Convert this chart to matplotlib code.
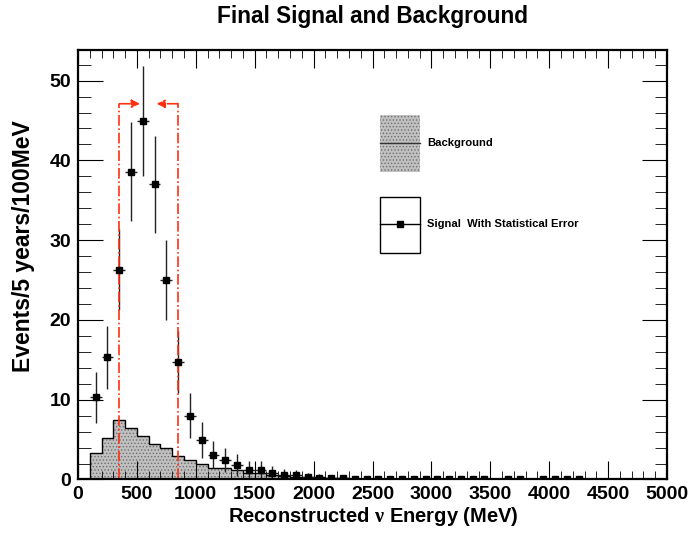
import numpy as np
import matplotlib.pyplot as plt
from matplotlib.patches import Rectangle
from matplotlib.lines import Line2D
from matplotlib.ticker import MultipleLocator

plt.rcParams['font.family'] = ['Liberation Sans', 'DejaVu Sans']
plt.rcParams['font.weight'] = 'bold'
plt.rcParams['mathtext.fontset'] = 'custom'
plt.rcParams['mathtext.rm'] = 'Liberation Serif'
plt.rcParams['hatch.color'] = '#7a7a7a'
plt.rcParams['hatch.linewidth'] = 0.6

# background histogram, 100 MeV bins starting at 100 MeV
bkg_edges = np.arange(100, 2800, 100)
bkg_counts = [3.3, 5.2, 7.4, 6.5, 5.5, 4.5, 3.9, 3.0, 2.4, 2.0, 1.5, 1.45, 1.2,
              0.8, 0.75, 0.6, 0.4, 0.35, 0.3, 0.25, 0.2, 0.15, 0.12, 0.1, 0.08, 0.06]

# signal with statistical error
sig_x = [150, 250, 350, 450, 550, 650, 750, 850, 950, 1050, 1150, 1250, 1350,
         1450, 1550, 1650, 1750, 1850, 1950, 2050, 2150, 2250, 2350, 2450, 2550,
         2650, 2750, 2850, 2950, 3050, 3150, 3250, 3350, 3450, 3650, 3750,
         3950, 4050, 4150, 4250]
sig_y = [10.3, 15.3, 26.3, 38.6, 44.9, 37.0, 25.0, 14.7, 8.0, 4.95, 3.1, 2.4, 1.8,
         1.2, 1.2, 0.8, 0.6, 0.5, 0.3, 0.2, 0.15, 0.15, 0.08, 0.08, 0.06,
         0.06, 0.06, 0.06, 0.06, 0.06, 0.06, 0.06, 0.06, 0.06, 0.06, 0.06,
         0.06, 0.06, 0.06, 0.06]
sig_err = [3.2, 3.9, 5.1, 6.2, 6.9, 6.1, 5.0, 3.9, 2.85, 2.2, 1.7, 1.5, 1.35,
           1.1, 1.1, 0.9, 0.75, 0.7, 0.55, 0.45, 0.4, 0.4, 0.3, 0.3, 0.25,
           0.25, 0.25, 0.25, 0.25, 0.25, 0.25, 0.25, 0.25, 0.25, 0.25, 0.25,
           0.25, 0.25, 0.25, 0.25]

cut_lo, cut_hi, cut_h = 350, 850, 47.1
arrow_lo_end, arrow_hi_end = 526, 668

fig = plt.figure(figsize=(6.92, 5.34), dpi=100)
ax = fig.add_axes([0.1127, 0.1021, 0.8512, 0.8052])

ax.stairs(bkg_counts, bkg_edges, fill=True, facecolor='#c0c0c0', edgecolor='#6e6e6e',
          hatch='.....', lw=0)
ax.stairs(bkg_counts, bkg_edges, color='black', lw=1.0)

ax.errorbar(sig_x, sig_y, yerr=sig_err, xerr=50, fmt='s', color='black', ms=5,
            ecolor='#222222', elinewidth=1.0, capsize=0)

red = '#ff3010'
for xc, xe in [(cut_lo, arrow_lo_end), (cut_hi, arrow_hi_end)]:
    ax.plot([xc, xc], [0, cut_h], color=red, ls='-.', lw=1.2)
    ax.annotate('', xy=(xe, cut_h), xytext=(xc, cut_h),
                arrowprops=dict(arrowstyle='-|>', color=red, lw=1.2,
                                linestyle='-.', mutation_scale=12,
                                shrinkA=0, shrinkB=0))

ax.set_xlim(0, 5000)
ax.set_ylim(0, 53.9)
ax.xaxis.set_major_locator(MultipleLocator(500))
ax.xaxis.set_minor_locator(MultipleLocator(100))
ax.yaxis.set_major_locator(MultipleLocator(10))
ax.yaxis.set_minor_locator(MultipleLocator(2))
ax.tick_params(which='both', direction='in', top=True, right=True, labelsize=14)
ax.tick_params(axis='x', which='major', length=13, pad=5)
ax.tick_params(axis='x', which='minor', length=6)
ax.tick_params(axis='y', which='major', length=18, pad=5)
ax.tick_params(axis='y', which='minor', length=9)
for sp in ax.spines.values():
    sp.set_linewidth(1.6)

ax.set_xlabel(r'Reconstructed $\mathrm{\nu}$ Energy (MeV)', fontsize=14.5,
              fontweight='bold', va='center')
ax.xaxis.set_label_coords(0.502, -0.087)
ax.set_ylabel('Events/5 years/100MeV', fontsize=16.5, fontweight='bold', va='center')
ax.yaxis.set_label_coords(-0.093, 0.543)
fig.text(0.5385, 0.97, 'Final Signal and Background', ha='center', va='center',
         fontsize=16.3, fontweight='bold')

# legend, drawn like the ROOT box
fig.patches.append(Rectangle((0.549, 0.6785), 0.0578, 0.106, transform=fig.transFigure,
                             facecolor='#c0c0c0', edgecolor='#6e6e6e', lw=0,
                             hatch='.....'))
fig.lines.append(Line2D([0.549, 0.6068], [0.732, 0.732], transform=fig.transFigure,
                        color='#333333', lw=1))
fig.text(0.617, 0.732, 'Background', va='center', fontsize=8.1, fontweight='bold')

fig.patches.append(Rectangle((0.549, 0.5268), 0.0578, 0.1049, transform=fig.transFigure,
                             facecolor='white', edgecolor='black', lw=1))
fig.lines.append(Line2D([0.549, 0.6068], [0.5805, 0.5805], transform=fig.transFigure,
                        color='black', lw=1))
fig.lines.append(Line2D([0.5779], [0.5805], transform=fig.transFigure, marker='s',
                        color='black', ms=5))
fig.text(0.617, 0.5805, 'Signal  With Statistical Error', va='center', fontsize=8.1,
         fontweight='bold')

fig.savefig('out.png', dpi=100)
